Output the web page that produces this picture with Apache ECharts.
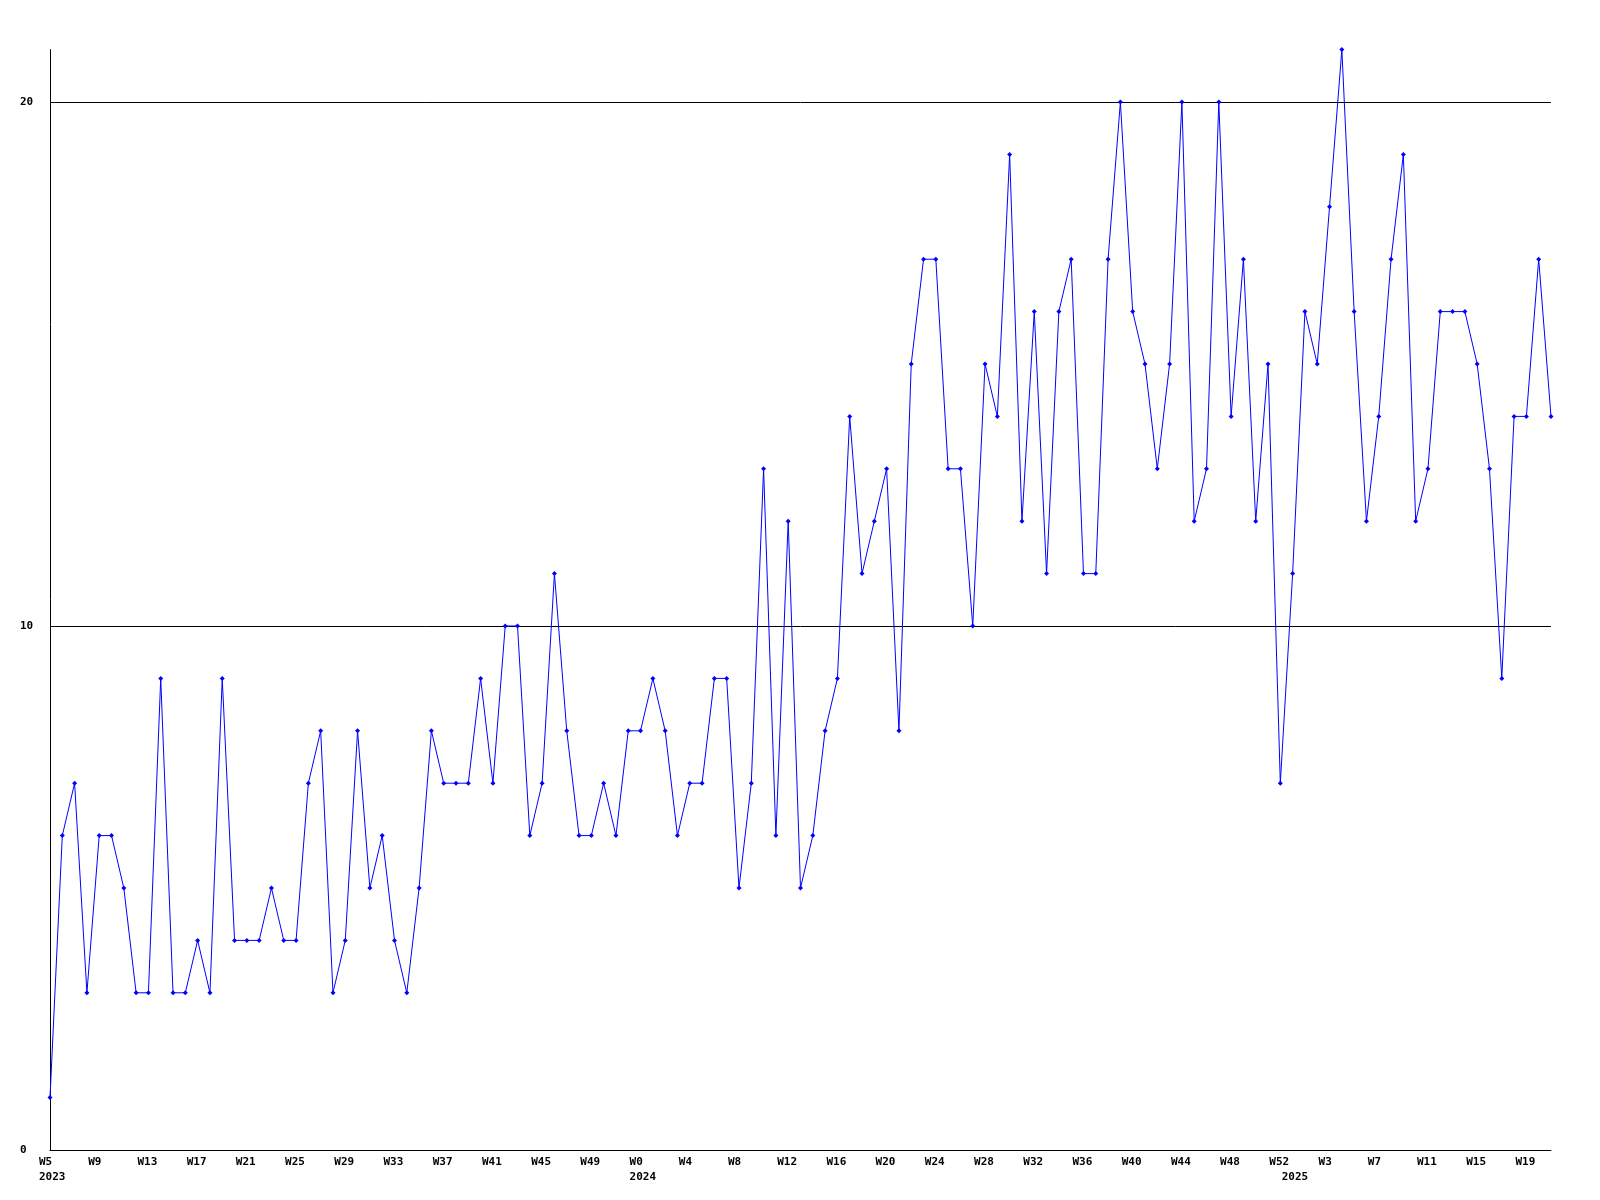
<!DOCTYPE html>
<html>
<head>
<meta charset="utf-8">
<style>
  html, body { margin: 0; padding: 0; background: #fff; }
  #chart { width: 1600px; height: 1200px; }
</style>
<script src="https://cdn.jsdelivr.net/npm/echarts@6/dist/echarts.min.js"></script>
</head>
<body>
<div id="chart"></div>
<script>
// Period covered (week numbers as printed on the axis)
const years = [2023, 2024, 2025];
const firstWeek = [5, 0, 0];
const lastWeek = [52, 52, 21];

// Weekly values, 2023 W5 .. 2025 W21
const values = [
  1, 6, 7, 3, 6, 6, 5, 3, 3, 9,
  3, 3, 4, 3, 9, 4, 4, 4, 5, 4,
  4, 7, 8, 3, 4, 8, 5, 6, 4, 3,
  5, 8, 7, 7, 7, 9, 7, 10, 10, 6,
  7, 11, 8, 6, 6, 7, 6, 8, 8, 9,
  8, 6, 7, 7, 9, 9, 5, 7, 13, 6,
  12, 5, 6, 8, 9, 14, 11, 12, 13, 8,
  15, 17, 17, 13, 13, 10, 15, 14, 19, 12,
  16, 11, 16, 17, 11, 11, 17, 20, 16, 15,
  13, 15, 20, 12, 13, 20, 14, 17, 12, 15,
  7, 11, 16, 15, 18, 21, 16, 12, 14, 17,
  19, 12, 13, 16, 16, 16, 15, 13, 9, 14,
  14, 17, 14
];

const yTicks = [0, 10, 20];

// Build categories
const weekLabels = [];
const yearStartIndex = {};
years.forEach((y, k) => {
  for (let w = firstWeek[k]; w <= lastWeek[k]; w++) {
    if (w === firstWeek[k]) yearStartIndex[weekLabels.length] = String(y);
    weekLabels.push('W' + w);
  }
});

const font = {
  fontFamily: 'DejaVu Sans Mono',
  fontWeight: 'bold',
  fontSize: 11,
  color: '#000'
};

const chart = echarts.init(document.getElementById('chart'), null, { renderer: 'canvas' });
chart.setOption({
  animation: false,
  backgroundColor: '#fff',
  grid: { left: 50, right: 49, top: 49.6, bottom: 50, containLabel: false },
  xAxis: [
    {
      type: 'category',
      data: weekLabels,
      boundaryGap: false,
      axisLine: { show: true, lineStyle: { color: '#000', width: 1 } },
      axisTick: { show: false },
      splitLine: { show: false },
      axisLabel: Object.assign({}, font, {
        interval: 3,
        align: 'left',
        margin: 7,
        padding: [0, 0, 0, -11]
      })
    },
    {
      type: 'category',
      data: weekLabels,
      boundaryGap: false,
      position: 'bottom',
      axisLine: { show: false },
      axisTick: { show: false },
      splitLine: { show: false },
      axisLabel: Object.assign({}, font, {
        interval: (idx) => yearStartIndex[idx] !== undefined,
        formatter: (v, idx) => yearStartIndex[idx] || '',
        align: 'left',
        margin: 22,
        padding: [0, 0, 0, -11]
      })
    }
  ],
  yAxis: {
    type: 'value',
    min: yTicks[0],
    max: 21,
    interval: yTicks[1] - yTicks[0],
    axisLine: { show: true, lineStyle: { color: '#000', width: 1 } },
    axisTick: { show: false },
    splitLine: { show: true, showMaxLine: false, lineStyle: { color: '#000', width: 1 } },
    axisLabel: Object.assign({}, font, {
      align: 'left',
      margin: 30,
      showMaxLabel: false,
      formatter: (v) => (yTicks.indexOf(v) >= 0 ? String(v) : '')
    })
  },
  series: [
    {
      type: 'line',
      xAxisIndex: 0,
      data: values,
      symbol: 'diamond',
      symbolSize: 5,
      showAllSymbol: true,
      lineStyle: { color: '#0000ff', width: 1 },
      itemStyle: { color: '#0000ff' },
      emphasis: { disabled: true }
    }
  ]
});
</script>
</body>
</html>
